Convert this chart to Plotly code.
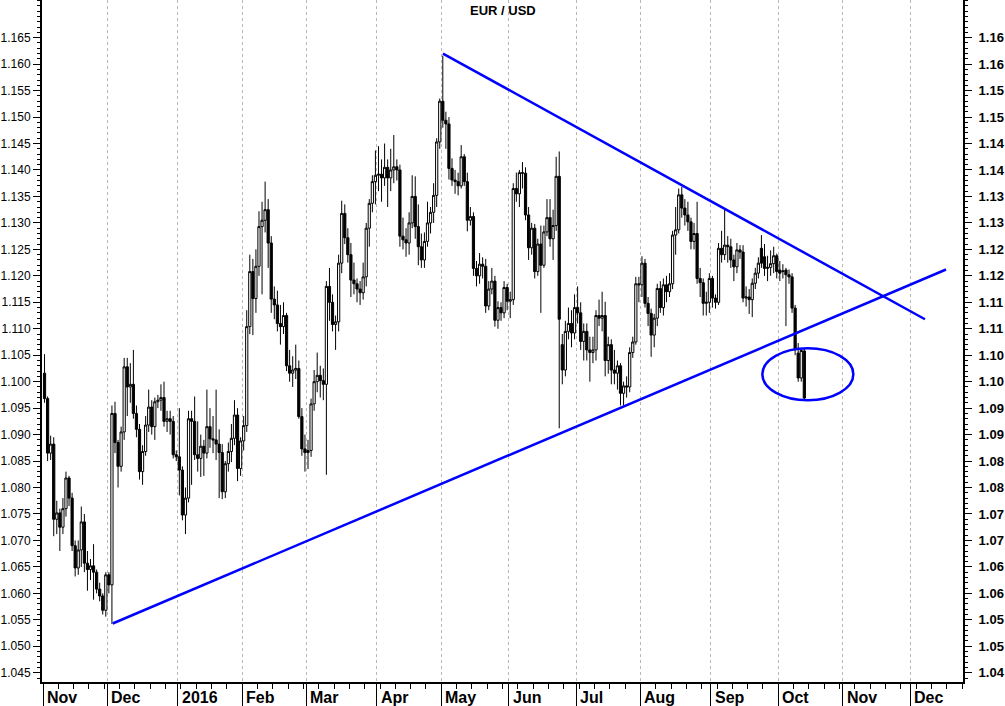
import pandas as pd
import plotly.graph_objects as go

# ---------------- data (daily EUR/USD candles, weekdays from 2015-11-02) ----------------
first_day = "2015-11-02"

opens = [
    # Nov 2015
    1.1016, 1.0968, 1.0865, 1.0882, 1.0740, 1.0752, 1.0725, 1.0760, 1.0818, 1.0780, 1.0690,
    1.0648, 1.0682, 1.0735, 1.0657, 1.0645, 1.0652, 1.0640, 1.0608, 1.0595, 1.0568,
    # Dec 2015
    1.0635, 1.0616, 1.0940, 1.0885, 1.0840, 1.0905, 1.1028, 1.0990, 1.0995, 1.0940, 1.0910,
    1.0830, 1.0868, 1.0918, 1.0952, 1.0915, 1.0962, 1.0965, 1.0970, 1.0925, 1.0930, 1.0925, 1.0862,
    # Jan 2016
    1.0858, 1.0833, 1.0748, 1.0780, 1.0930, 1.0925, 1.0862, 1.0855, 1.0878, 1.0865, 1.0915,
    1.0892, 1.0890, 1.0882, 1.0866, 1.0792, 1.0845, 1.0868, 1.0893, 1.0937, 1.0836,
    # Feb
    1.0888, 1.0917, 1.1104, 1.1208, 1.1157, 1.1218, 1.1293, 1.1305, 1.1325, 1.1262, 1.1156,
    1.1145, 1.1110, 1.1104, 1.1125, 1.1030, 1.1016, 1.1022, 1.1025, 1.0934, 1.0873,
    # Mar
    1.0866, 1.0870, 1.0958, 1.1000, 1.1012, 1.1002, 1.0995, 1.1180, 1.1150, 1.1108, 1.1113,
    1.1224, 1.1318, 1.1272, 1.1240, 1.1192, 1.1185, 1.1175, 1.1168, 1.1198, 1.1290, 1.1337, 1.1378,
    # Apr
    1.1390, 1.1392, 1.1385, 1.1405, 1.1385, 1.1400, 1.1406, 1.1400, 1.1275, 1.1268, 1.1262,
    1.1300, 1.1350, 1.1293, 1.1255, 1.1230, 1.1265, 1.1300, 1.1320, 1.1352, 1.1453,
    # May
    1.1530, 1.1494, 1.1487, 1.1403, 1.1381, 1.1378, 1.1370, 1.1425, 1.1378, 1.1305, 1.1312,
    1.1214, 1.1200, 1.1222, 1.1218, 1.1143, 1.1175, 1.1190, 1.1116, 1.1140, 1.1130, 1.1178,
    # Jun
    1.1152, 1.1155, 1.1365, 1.1355, 1.1395, 1.1394, 1.1315, 1.1253, 1.1290, 1.1208, 1.1260,
    1.1220, 1.1283, 1.1310, 1.1270, 1.1295, 1.1388, 1.1070, 1.1022, 1.1095, 1.1110, 1.1092,
    # Jul
    1.1140, 1.1130, 1.1076, 1.1095, 1.1060, 1.1055, 1.1060, 1.1125, 1.1120, 1.1125, 1.1040,
    1.1070, 1.1022, 1.1016, 1.1030, 1.0978, 1.0992, 1.0990, 1.1055, 1.1075, 1.1185,
    # Aug
    1.1183, 1.1224, 1.1148, 1.1129, 1.1088, 1.1120, 1.1176, 1.1140, 1.1183, 1.1170, 1.1185,
    1.1277, 1.1287, 1.1353, 1.1328, 1.1315, 1.1302, 1.1265, 1.1280, 1.1195, 1.1187, 1.1148, 1.1150,
    # Sep
    1.1195, 1.1158, 1.1150, 1.1252, 1.1240, 1.1258, 1.1255, 1.1230, 1.1217, 1.1249, 1.1245,
    1.1158, 1.1160, 1.1155, 1.1186, 1.1205, 1.1252, 1.1236, 1.1214, 1.1216, 1.1223, 1.1238,
    # Oct
    1.1211, 1.1208, 1.1211, 1.1202, 1.1198, 1.1139, 1.1054, 1.1007, 1.1058,
]

highs = [
    1.1052, 1.0972, 1.0898, 1.0895, 1.0775, 1.0760, 1.0780, 1.0830, 1.0822, 1.0790, 1.0700,
    1.0700, 1.0764, 1.0750, 1.0680, 1.0665, 1.0693, 1.0645, 1.0620, 1.0600, 1.0640,
    1.0640, 1.0955, 1.0962, 1.0890, 1.0915, 1.1045, 1.1045, 1.1035, 1.1060, 1.0955, 1.0920,
    1.0880, 1.0935, 1.0985, 1.0965, 1.0970, 1.0975, 1.0995, 1.1000, 1.0945, 1.0945, 1.0935, 1.0870,
    1.0950, 1.0840, 1.0800, 1.0945, 1.0945, 1.0972, 1.0925, 1.0900, 1.0890, 1.0985, 1.0950,
    1.0935, 1.0985, 1.0910, 1.0882, 1.0850, 1.0885, 1.0920, 1.0965, 1.0950, 1.0895,
    1.0935, 1.1135, 1.1240, 1.1232, 1.1250, 1.1322, 1.1340, 1.1378, 1.1345, 1.1275, 1.1180,
    1.1172, 1.1145, 1.1150, 1.1130, 1.1060, 1.1048, 1.1070, 1.1040, 1.0950, 1.0900,
    1.0890, 1.0968, 1.1022, 1.1055, 1.1030, 1.1025, 1.1190, 1.1215, 1.1165, 1.1125, 1.1240,
    1.1342, 1.1335, 1.1290, 1.1262, 1.1225, 1.1195, 1.1190, 1.1225, 1.1300, 1.1345, 1.1390, 1.1437,
    1.1445, 1.1420, 1.1450, 1.1420, 1.1440, 1.1466, 1.1420, 1.1410, 1.1310, 1.1290, 1.1320,
    1.1390, 1.1388, 1.1335, 1.1280, 1.1282, 1.1340, 1.1330, 1.1375, 1.1460, 1.1535,
    1.1616, 1.1510, 1.1500, 1.1422, 1.1400, 1.1395, 1.1447, 1.1430, 1.1395, 1.1330, 1.1320,
    1.1228, 1.1243, 1.1235, 1.1232, 1.1190, 1.1215, 1.1200, 1.1152, 1.1150, 1.1190, 1.1185,
    1.1170, 1.1375, 1.1395, 1.1400, 1.1415, 1.1405, 1.1330, 1.1300, 1.1298, 1.1270, 1.1295,
    1.1295, 1.1345, 1.1345, 1.1325, 1.1425, 1.1435, 1.1090, 1.1115, 1.1140, 1.1135, 1.1165,
    1.1180, 1.1150, 1.1110, 1.1110, 1.1085, 1.1085, 1.1135, 1.1155, 1.1170, 1.1151, 1.1085,
    1.1080, 1.1060, 1.1040, 1.1035, 1.1000, 1.1010, 1.1065, 1.1085, 1.1198, 1.1198,
    1.1237, 1.1232, 1.1160, 1.1138, 1.1128, 1.1185, 1.1190, 1.1195, 1.1200, 1.1205, 1.1285,
    1.1330, 1.1365, 1.1368, 1.1345, 1.1340, 1.1310, 1.1300, 1.1340, 1.1215, 1.1195, 1.1170, 1.1205,
    1.1200, 1.1165, 1.1262, 1.1285, 1.1328, 1.1275, 1.1270, 1.1240, 1.1262, 1.1258, 1.1258,
    1.1180, 1.1175, 1.1195, 1.1215, 1.1235, 1.1277, 1.1260, 1.1238, 1.1248, 1.1255, 1.1242,
    1.1228, 1.1222, 1.1215, 1.1212, 1.1205, 1.1145, 1.1073, 1.1062, 1.1062,
]

lows = [
    1.0960, 1.0850, 1.0852, 1.0708, 1.0712, 1.0680, 1.0712, 1.0745, 1.0765, 1.0680, 1.0632,
    1.0635, 1.0650, 1.0640, 1.0605, 1.0625, 1.0588, 1.0600, 1.0585, 1.0560, 1.0556,
    1.0600, 1.0542, 1.0865, 1.0800, 1.0830, 1.0890, 1.0935, 1.0960, 1.0930, 1.0895, 1.0815,
    1.0805, 1.0860, 1.0905, 1.0900, 1.0890, 1.0950, 1.0945, 1.0915, 1.0905, 1.0900, 1.0855, 1.0850,
    1.0785, 1.0738, 1.0712, 1.0772, 1.0805, 1.0852, 1.0830, 1.0820, 1.0822, 1.0855, 1.0875,
    1.0865, 1.0852, 1.0780, 1.0778, 1.0780, 1.0830, 1.0848, 1.0880, 1.0812, 1.0822,
    1.0870, 1.0905, 1.1090, 1.1088, 1.1130, 1.1200, 1.1165, 1.1282, 1.1215, 1.1130, 1.1118,
    1.1095, 1.1070, 1.1090, 1.1020, 1.1000, 1.0990, 1.1005, 1.0930, 1.0860, 1.0830,
    1.0835, 1.0858, 1.0945, 1.0980, 1.0970, 1.0965, 1.0824, 1.1115, 1.1095, 1.1060, 1.1095,
    1.1205, 1.1260, 1.1225, 1.1160, 1.1165, 1.1150, 1.1145, 1.1155, 1.1180, 1.1255, 1.1320, 1.1335,
    1.1360, 1.1340, 1.1370, 1.1330, 1.1360, 1.1375, 1.1380, 1.1255, 1.1250, 1.1236, 1.1240,
    1.1290, 1.1270, 1.1220, 1.1215, 1.1215, 1.1255, 1.1280, 1.1300, 1.1330, 1.1440,
    1.1480, 1.1440, 1.1382, 1.1370, 1.1355, 1.1352, 1.1365, 1.1370, 1.1284, 1.1295, 1.1200,
    1.1180, 1.1185, 1.1195, 1.1130, 1.1135, 1.1165, 1.1104, 1.1100, 1.1115, 1.1120, 1.1135,
    1.1120, 1.1145, 1.1340, 1.1330, 1.1365, 1.1305, 1.1230, 1.1240, 1.1195, 1.1200, 1.1130,
    1.1215, 1.1275, 1.1255, 1.1230, 1.1285, 1.0912, 1.0995, 1.1010, 1.1080, 1.1065, 1.1080,
    1.1110, 1.1060, 1.1040, 1.1040, 1.1000, 1.1035, 1.1040, 1.1105, 1.1095, 1.1010, 1.1015,
    1.0995, 1.0995, 1.0985, 1.0955, 1.0955, 1.0970, 1.0980, 1.1045, 1.1070, 1.1150,
    1.1160, 1.1140, 1.1105, 1.1047, 1.1065, 1.1105, 1.1130, 1.1125, 1.1150, 1.1160, 1.1175,
    1.1240, 1.1280, 1.1310, 1.1295, 1.1285, 1.1250, 1.1250, 1.1185, 1.1160, 1.1125, 1.1125, 1.1130,
    1.1140, 1.1138, 1.1145, 1.1225, 1.1230, 1.1225, 1.1215, 1.1190, 1.1205, 1.1232, 1.1150,
    1.1142, 1.1128, 1.1122, 1.1175, 1.1195, 1.1215, 1.1200, 1.1190, 1.1200, 1.1205, 1.1195,
    1.1190, 1.1195, 1.1105, 1.1185, 1.1130, 1.1050, 1.1000, 1.1000, 1.0966,
]

closes = [
    1.0968, 1.0865, 1.0882, 1.0740, 1.0752, 1.0725, 1.0760, 1.0818, 1.0780, 1.0690, 1.0648,
    1.0682, 1.0735, 1.0657, 1.0645, 1.0652, 1.0640, 1.0608, 1.0595, 1.0568, 1.0635,
    1.0616, 1.0940, 1.0885, 1.0840, 1.0905, 1.1028, 1.0990, 1.0995, 1.0940, 1.0910, 1.0830,
    1.0868, 1.0918, 1.0952, 1.0915, 1.0962, 1.0965, 1.0970, 1.0925, 1.0930, 1.0925, 1.0862, 1.0858,
    1.0833, 1.0748, 1.0780, 1.0930, 1.0925, 1.0862, 1.0855, 1.0878, 1.0865, 1.0915, 1.0892,
    1.0890, 1.0882, 1.0866, 1.0792, 1.0845, 1.0868, 1.0893, 1.0937, 1.0836, 1.0888,
    1.0917, 1.1104, 1.1208, 1.1157, 1.1218, 1.1293, 1.1305, 1.1325, 1.1262, 1.1156, 1.1145,
    1.1110, 1.1104, 1.1125, 1.1030, 1.1016, 1.1022, 1.1025, 1.0934, 1.0873, 1.0866,
    1.0870, 1.0958, 1.1000, 1.1012, 1.1002, 1.0995, 1.1180, 1.1150, 1.1108, 1.1113, 1.1224,
    1.1318, 1.1272, 1.1240, 1.1192, 1.1185, 1.1175, 1.1168, 1.1198, 1.1290, 1.1337, 1.1378, 1.1390,
    1.1392, 1.1385, 1.1405, 1.1385, 1.1400, 1.1406, 1.1400, 1.1275, 1.1268, 1.1262, 1.1300,
    1.1350, 1.1293, 1.1255, 1.1230, 1.1265, 1.1300, 1.1320, 1.1352, 1.1453, 1.1530,
    1.1494, 1.1487, 1.1403, 1.1381, 1.1378, 1.1370, 1.1425, 1.1378, 1.1305, 1.1312, 1.1214,
    1.1200, 1.1222, 1.1218, 1.1143, 1.1175, 1.1190, 1.1116, 1.1140, 1.1130, 1.1178, 1.1152,
    1.1155, 1.1365, 1.1355, 1.1395, 1.1394, 1.1315, 1.1253, 1.1290, 1.1208, 1.1260, 1.1220,
    1.1283, 1.1310, 1.1270, 1.1295, 1.1388, 1.1118, 1.1022, 1.1095, 1.1110, 1.1092, 1.1140,
    1.1130, 1.1076, 1.1095, 1.1060, 1.1055, 1.1060, 1.1125, 1.1120, 1.1125, 1.1040, 1.1070,
    1.1022, 1.1016, 1.1030, 1.0978, 1.0992, 1.0990, 1.1055, 1.1075, 1.1185, 1.1183,
    1.1224, 1.1148, 1.1129, 1.1088, 1.1120, 1.1176, 1.1140, 1.1183, 1.1170, 1.1185, 1.1277,
    1.1287, 1.1353, 1.1328, 1.1315, 1.1302, 1.1265, 1.1280, 1.1195, 1.1187, 1.1148, 1.1150, 1.1195,
    1.1158, 1.1150, 1.1252, 1.1240, 1.1258, 1.1255, 1.1230, 1.1217, 1.1249, 1.1245, 1.1158,
    1.1160, 1.1155, 1.1186, 1.1205, 1.1224, 1.1224, 1.1214, 1.1216, 1.1223, 1.1238, 1.1208,
    1.1205, 1.1209, 1.1202, 1.1198, 1.1139, 1.1062, 1.1007, 1.1059, 1.0969,
]

# hand-drawn trend lines and ellipse (data coordinates)
upper_line_x = ["2016-05-02 13:00", "2016-12-07 21:00"]
upper_line_y = [1.1620, 1.1118]
lower_line_x = ["2015-12-02 18:00", "2016-12-16 18:00"]
lower_line_y = [1.0543, 1.1212]
ellipse_x = ["2016-09-23 19:00", "2016-11-04 12:00"]
ellipse_y = [1.0965, 1.1063]

# axis ticks
month_ticks = ["2015-11-02", "2015-12-01", "2016-01-01", "2016-02-01", "2016-03-01",
               "2016-04-01", "2016-05-02", "2016-06-01", "2016-07-01", "2016-08-01",
               "2016-09-01", "2016-10-03", "2016-11-01", "2016-12-01"]
month_labels = ["Nov", "Dec", "2016", "Feb", "Mar", "Apr", "May", "Jun", "Jul",
                "Aug", "Sep", "Oct", "Nov", "Dec"]
y_ticks = [1.045, 1.050, 1.055, 1.060, 1.065, 1.070, 1.075, 1.080, 1.085, 1.090,
           1.095, 1.100, 1.105, 1.110, 1.115, 1.120, 1.125, 1.130, 1.135, 1.140,
           1.145, 1.150, 1.155, 1.160, 1.165]
y_labels_left = ["1.045", "1.050", "1.055", "1.060", "1.065", "1.070", "1.075", "1.080",
                 "1.085", "1.090", "1.095", "1.100", "1.105", "1.110", "1.115", "1.120",
                 "1.125", "1.130", "1.135", "1.140", "1.145", "1.150", "1.155", "1.160", "1.165"]
y_labels_right = ["1.04", "1.05", "1.05", "1.06", "1.06", "1.07", "1.07", "1.08", "1.08",
                  "1.09", "1.09", "1.10", "1.10", "1.11", "1.11", "1.12", "1.12", "1.13",
                  "1.13", "1.14", "1.14", "1.15", "1.15", "1.16", "1.16"]

# ---------------- figure ----------------
dates = pd.bdate_range(first_day, periods=len(closes)) + pd.Timedelta(hours=12)
mondays = pd.date_range("2015-11-09", "2016-12-26", freq="W-MON")

FONT = "Liberation Sans, Arial, sans-serif"
BLUE = "#0000FF"
X_RANGE = ["2015-10-30 16:10", "2016-12-26 07:00"]
Y_RANGE = [1.04325, 1.17212]

fig = go.Figure()
fig.add_trace(go.Candlestick(
    x=dates, open=opens, high=highs, low=lows, close=closes,
    increasing=dict(line=dict(color="black", width=1), fillcolor="white"),
    decreasing=dict(line=dict(color="black", width=1), fillcolor="black"),
    whiskerwidth=0, showlegend=False, hoverinfo="skip",
))
fig.add_trace(go.Scatter(x=upper_line_x, y=upper_line_y, mode="lines",
                         line=dict(color=BLUE, width=2.5), showlegend=False,
                         hoverinfo="skip", yaxis="y2"))
fig.add_trace(go.Scatter(x=lower_line_x, y=lower_line_y, mode="lines",
                         line=dict(color=BLUE, width=2.5), showlegend=False,
                         hoverinfo="skip", yaxis="y2"))

fig.add_shape(type="circle", xref="x", yref="y",
              x0=ellipse_x[0], x1=ellipse_x[1], y0=ellipse_y[0], y1=ellipse_y[1],
              line=dict(color=BLUE, width=2.5))

# month labels (left aligned next to month tick)
for d, lab in zip(month_ticks, month_labels):
    fig.add_annotation(x=d, xref="x", y=0, yref="paper", text="<b>%s</b>" % lab,
                       showarrow=False, xanchor="left", yanchor="top",
                       xshift=2, yshift=-5,
                       font=dict(family=FONT, size=16, color="black"))

fig.add_annotation(x=0.5, xref="paper", y=1, yref="paper", text="<b>EUR / USD</b>",
                   showarrow=False, xanchor="center", yanchor="top", yshift=-1,
                   font=dict(family=FONT, size=13, color="black"))

yaxis_common = dict(
    range=Y_RANGE, tickmode="array", tickvals=y_ticks,
    ticks="outside", ticklen=7, tickwidth=1, tickcolor="black",
    minor=dict(tickmode="linear", tick0=1.045, dtick=0.001, ticks="outside",
               ticklen=3, tickwidth=1, tickcolor="black", showgrid=False),
    showline=True, linewidth=2, linecolor="black",
    showgrid=False, zeroline=False, fixedrange=True,
)

fig.update_layout(
    width=1005, height=706,
    margin=dict(l=42, r=42, t=0, b=24),
    paper_bgcolor="white", plot_bgcolor="white",
    font=dict(family=FONT, color="black"),
    boxgap=0.2, boxgroupgap=0.1,
    hovermode=False,
    xaxis=dict(
        type="date", range=X_RANGE,
        rangebreaks=[dict(bounds=["sat", "mon"])],
        rangeslider=dict(visible=False),
        tickmode="array", tickvals=month_ticks, showticklabels=False,
        ticks="outside", ticklen=25, tickwidth=1, tickcolor="black",
        minor=dict(tickmode="array", tickvals=list(mondays), ticks="outside",
                   ticklen=5, tickwidth=1, tickcolor="black", showgrid=False),
        showgrid=True, gridcolor="#b8b8b8", gridwidth=1, griddash="3px,3px",
        showline=True, linewidth=2, linecolor="black", zeroline=False,
        fixedrange=True,
    ),
    yaxis=dict(**yaxis_common, ticktext=y_labels_left, side="left",
               tickfont=dict(family=FONT, size=12, color="black")),
    yaxis2=dict(**yaxis_common, ticktext=y_labels_right, side="right",
                overlaying="y", ticklabelstandoff=4,
                tickfont=dict(family=FONT, size=13, color="black", weight="bold")),
)

fig.write_html(
    "out.html",
    config={"displayModeBar": False, "staticPlot": True},
    post_script="document.body.style.margin='0px';document.body.style.overflow='hidden';",
)
